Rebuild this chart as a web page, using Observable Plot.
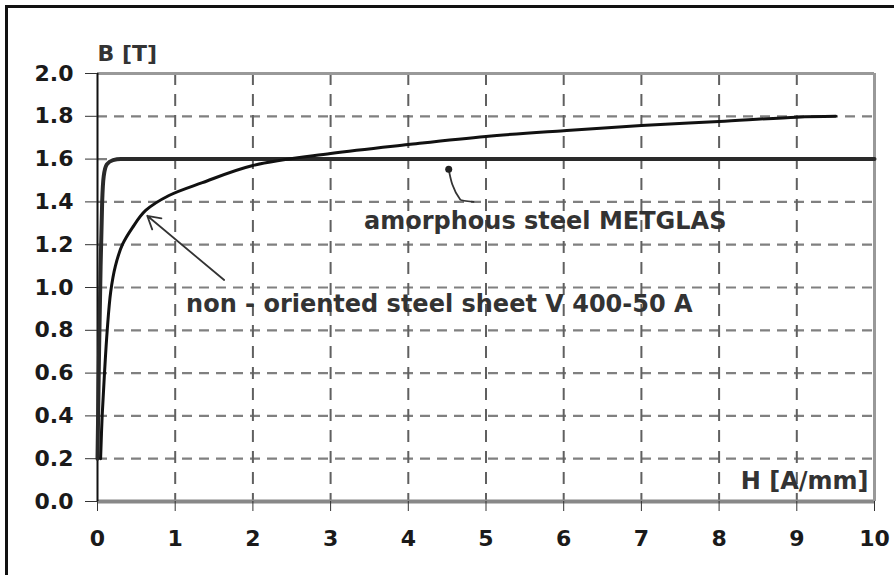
<!DOCTYPE html>
<html>
<head>
<meta charset="utf-8">
<script src="https://cdn.jsdelivr.net/npm/d3@7"></script>
<script src="https://cdn.jsdelivr.net/npm/@observablehq/plot@0.6"></script>
<style>
  html, body { margin: 0; padding: 0; background: #fff; overflow: hidden; }
  #wrap { position: relative; width: 894px; height: 575px; overflow: hidden; }
  #border { position: absolute; left: 5px; top: 5px; width: 1000px; height: 1000px;
            border-left: 3px solid #111; border-top: 3px solid #111; }
  #chart { position: absolute; left: 0; top: 0; }
</style>
</head>
<body>
<div id="wrap"><div id="border"></div><div id="chart"></div></div>
<script>
// Tick values
const xTicks = [0, 1, 2, 3, 4, 5, 6, 7, 8, 9, 10];
const yTicks = [0, 0.2, 0.4, 0.6, 0.8, 1.0, 1.2, 1.4, 1.6, 1.8, 2.0];

// amorphous steel METGLAS: H [A/mm], B [T]
const metglasH = [0, 0.02, 0.04, 0.06, 0.08, 0.12, 0.2, 0.3, 10];
const metglasB = [0.2, 0.7, 1.1, 1.4, 1.52, 1.575, 1.595, 1.6, 1.6];

// non-oriented steel sheet V 400-50 A
const nonOrH = [0.04, 0.06, 0.09, 0.125, 0.17, 0.23, 0.32, 0.45, 0.62, 0.92, 1.35, 2, 3, 4, 5, 6, 7, 8, 9, 9.5];
const nonOrB = [0.2, 0.4, 0.6, 0.8, 0.98, 1.1, 1.2, 1.28, 1.36, 1.43, 1.49, 1.57, 1.626, 1.668, 1.706, 1.733, 1.757, 1.776, 1.796, 1.8];

// Annotations
const labelTexts = ["amorphous steel METGLAS", "non - oriented steel sheet V 400-50 A"];
const labelH = [3.43, 1.14];
const labelB = [1.31, 0.92];
const metglasPointerH = [4.52, 4.67, 4.84];
const metglasPointerB = [1.552, 1.41, 1.40];
const nonOrArrow = {x1: 1.63, y1: 1.035, x2: 0.64, y2: 1.335};

const metglas = metglasH.map((h, i) => ({H: h, B: metglasB[i]}));
const nonOr = nonOrH.map((h, i) => ({H: h, B: nonOrB[i]}));
const labels = labelTexts.map((t, i) => ({t, H: labelH[i], B: labelB[i]}));
const pointer = metglasPointerH.map((h, i) => ({H: h, B: metglasPointerB[i]}));

const FONT = "'DejaVu Sans', 'Liberation Sans', Arial, sans-serif";

const chart = Plot.plot({
  width: 894,
  height: 575,
  marginLeft: 97,
  marginRight: 20,
  marginTop: 73,
  marginBottom: 74,
  style: {background: "transparent", fontFamily: FONT, fontWeight: "bold", overflow: "visible"},
  x: {domain: [0, 10]},
  y: {domain: [0, 2]},
  marks: [
    // dashed grid
    Plot.ruleY(yTicks.filter(v => v > 0 && v < 2), {stroke: "#808080", strokeWidth: 2.2, strokeDasharray: "10,7"}),
    Plot.ruleX(xTicks.filter(v => v > 0 && v < 10), {stroke: "#606060", strokeWidth: 2, strokeDasharray: "12,9"}),
    // frame
    Plot.ruleY([0], {stroke: "#888", strokeWidth: 4}),
    Plot.ruleY([2], {stroke: "#999", strokeWidth: 3}),
    Plot.ruleX([10], {stroke: "#999", strokeWidth: 3}),
    Plot.ruleX([0], {stroke: "#111", strokeWidth: 2}),
    // axes
    Plot.axisY({ticks: yTicks, tickFormat: d3.format(".1f"), tickSize: 12, tickPadding: 12,
                fontSize: 22, fill: "#1a1a1a", stroke: "#333", label: null}),
    Plot.axisX({ticks: xTicks, tickFormat: d => String(d), tickSize: 10, tickPadding: 19,
                fontSize: 22, fill: "#1a1a1a", stroke: "#333", label: null}),
    // curves
    Plot.line(metglas, {x: "H", y: "B", stroke: "#2a2a2a", strokeWidth: 4, curve: "monotone-x"}),
    Plot.line(nonOr, {x: "H", y: "B", stroke: "#111", strokeWidth: 3, curve: "catmull-rom"}),
    // pointers
    Plot.line(pointer, {x: "H", y: "B", stroke: "#333", strokeWidth: 1.8, curve: "monotone-y"}),
    Plot.dot(pointer.slice(0, 1), {x: "H", y: "B", r: 3.5, fill: "#222"}),
    Plot.arrow([nonOrArrow], {x1: "x1", y1: "y1", x2: "x2", y2: "y2", stroke: "#333", strokeWidth: 1.8, headLength: 12, bend: 0}),
    // annotation text
    Plot.text(labels, {x: "H", y: "B", text: "t", textAnchor: "start", lineAnchor: "middle",
                       fontSize: 24, fontWeight: "bold", fill: "#333"}),
    // axis labels
    Plot.text(["B [T]"], {frameAnchor: "top-left", text: d => d, textAnchor: "start", lineAnchor: "bottom",
                          dx: 0, dy: -13, fontSize: 22, fontWeight: "bold", fill: "#333", letterSpacing: "2.5px"}),
    Plot.text(["H [A/mm]"], {frameAnchor: "bottom-right", text: d => d, textAnchor: "end", lineAnchor: "bottom",
                             dx: -6, dy: -13, fontSize: 24, fontWeight: "bold", fill: "#333"})
  ]
});
document.getElementById("chart").appendChild(chart);
</script>
</body>
</html>
